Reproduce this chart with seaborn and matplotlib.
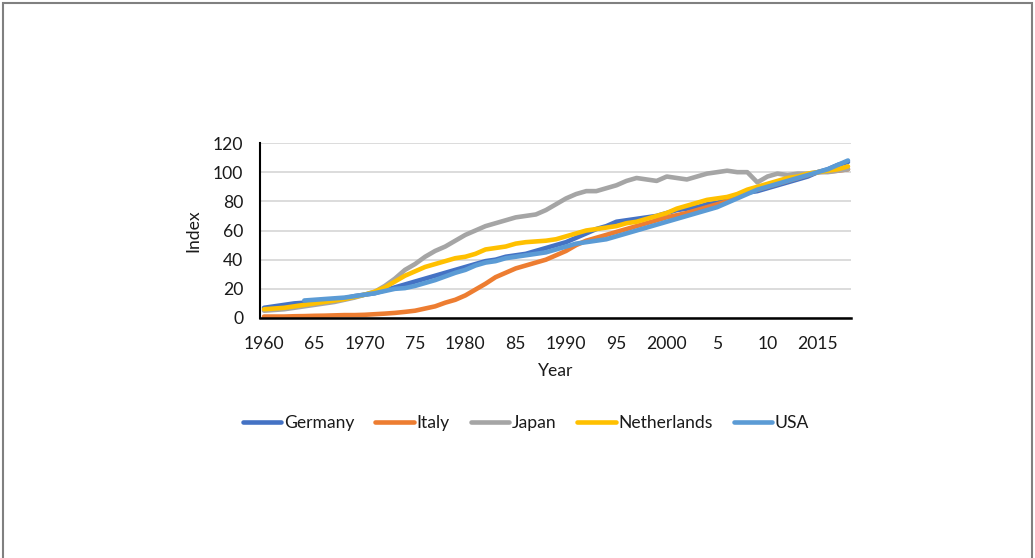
import matplotlib
matplotlib.use("Agg")
import matplotlib.pyplot as plt
import seaborn as sns
import pandas as pd
import numpy as np
from matplotlib.patches import Rectangle

years = list(range(1960, 2019))

germany = [7, 8, 9, 10, 10.5, 11, 12, 12.5, 13.5, 15,
           16, 17, 19, 21, 23, 25, 27, 29, 31, 33,
           35, 37, 39, 40, 42, 43, 44, 46, 48, 50,
           52, 55, 58, 61, 63, 66, 67, 68, 69, 70,
           72, 74, 75, 76, 78, 79, 81, 83, 86, 87,
           89, 91, 93, 95, 97, 100, 102, 105, 107]

italy = [1, 1, 1, 1.2, 1.3, 1.5, 1.6, 1.8, 2, 2,
         2.2, 2.6, 3, 3.5, 4.2, 5, 6.5, 8, 10.5, 12.5,
         15.5, 19.5, 23.5, 28, 31, 34, 36, 38, 40, 43,
         46, 50, 53, 55, 57, 59, 61, 63, 65, 67,
         69, 70.5, 72, 74, 76, 78, 80, 83, 86, 88,
         90, 92, 94, 96, 98, 100, 100.5, 101, 102]

japan = [5, 5.5, 6, 7, 8, 9, 10, 11, 12.5, 14,
         16, 18, 22, 27, 33, 37, 42, 46, 49, 53,
         57, 60, 63, 65, 67, 69, 70, 71, 74, 78,
         82, 85, 87, 87, 89, 91, 94, 96, 95, 94,
         97, 96, 95, 97, 99, 100, 101, 100, 100, 93,
         97, 99, 98, 99, 99, 100, 100, 101, 102]

netherlands = [6, 6.5, 7, 8, 9, 10, 11, 12, 13, 14.5,
               16, 18, 21, 25, 29, 32, 35, 37, 39, 41,
               42, 44, 47, 48, 49, 51, 52, 52.5, 53, 54,
               56, 58, 60, 61, 62, 63, 65, 66, 68, 70,
               72, 75, 77, 79, 81, 82, 83, 85, 88, 90,
               92, 94, 96, 97, 99, 100, 101, 102, 104]

usa_years = list(range(1964, 2019))
usa = [12, 12.5, 13, 13.5, 14, 15,
       16, 17, 18.5, 20, 20.5, 22, 24, 26, 28.5, 31,
       33, 36, 38, 39, 41, 42, 43, 44, 45, 47,
       49, 51, 52, 53, 54, 56, 58, 60, 62, 64,
       66, 68, 70, 72, 74, 76, 79, 82, 85, 88,
       90, 92, 94, 96, 98, 100, 102, 105, 108]

countries = ["Germany", "Italy", "Japan", "Netherlands", "USA"]
colors = ["#4472C4", "#ED7D31", "#A5A5A5", "#FFC000", "#5B9BD5"]

tick_years = [1960, 1965, 1970, 1975, 1980, 1985, 1990, 1995, 2000, 2005, 2010, 2015]
tick_labels = ["1960", "65", "1970", "75", "1980", "85", "1990", "95", "2000", "5", "10", "2015"]
y_ticks = [0, 20, 40, 60, 80, 100, 120]

frames = []
for name, yrs, vals in [("Germany", years, germany), ("Italy", years, italy),
                        ("Japan", years, japan), ("Netherlands", years, netherlands),
                        ("USA", usa_years, usa)]:
    frames.append(pd.DataFrame({"Year": yrs, "Index": vals, "Country": name}))
df = pd.concat(frames, ignore_index=True)

sns.set_theme(style="white")
plt.rcParams["font.family"] = ["Lato", "DejaVu Sans"]

FS = 12.6
fig = plt.figure(figsize=(10.35, 5.58), dpi=100)
ax = fig.add_axes([260/1035, 1-318/558, (851-260)/1035, (318-143)/558])

sns.lineplot(data=df, x="Year", y="Index", hue="Country", hue_order=countries,
             palette=colors, linewidth=3.3, estimator=None, ax=ax, legend=True)

ax.set_xlim(1959.6, 2018.3)
ax.set_ylim(0, 120)
ax.set_yticks(y_ticks)
ax.set_xticks(tick_years)
ax.set_xticklabels(tick_labels)
ax.tick_params(axis="both", length=0, labelsize=FS, colors="#1a1a1a")
ax.tick_params(axis="x", pad=13)
ax.tick_params(axis="y", pad=12)
ax.yaxis.grid(True, color="#D9D9D9", linewidth=1.3)
ax.set_axisbelow(True)
for s in ["top", "right"]:
    ax.spines[s].set_visible(False)
ax.spines["left"].set_color("#000000")
ax.spines["left"].set_linewidth(1.5)
ax.spines["bottom"].set_color("#000000")
ax.spines["bottom"].set_linewidth(1.8)
ax.set_xlabel("Year", fontsize=FS, labelpad=8, color="#1a1a1a")
ax.set_ylabel("Index", fontsize=FS, labelpad=8, color="#1a1a1a")

handles, labels = ax.get_legend_handles_labels()
ax.get_legend().remove()
leg = fig.legend(handles, labels, loc="center", bbox_to_anchor=(526/1035, 1-423/558),
                 ncol=5, frameon=False, fontsize=FS, handlelength=2.2, handletextpad=0.15,
                 columnspacing=1.2)
for t in leg.get_texts():
    t.set_color("#1a1a1a")

fig.patches.append(Rectangle((3/1035, -0.02), (1032-3)/1035, 1.02-3/558,
                             transform=fig.transFigure, fill=False,
                             edgecolor="#808080", linewidth=1.5))

fig.savefig("out.png", dpi=100, facecolor="white")
